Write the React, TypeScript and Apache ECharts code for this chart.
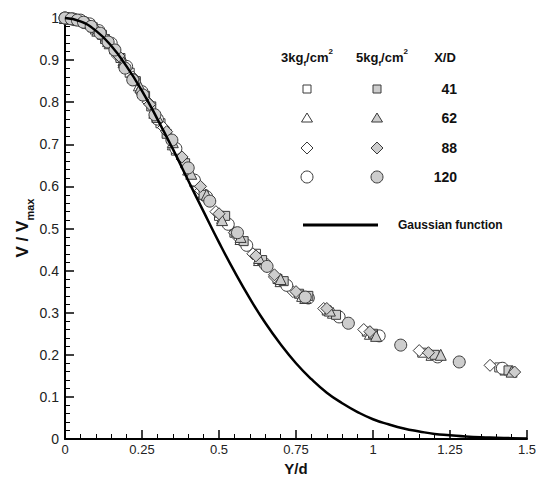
import React, { useEffect, useRef } from "react";
import * as echarts from "echarts";

const xTicks = [0, 0.25, 0.5, 0.75, 1, 1.25, 1.5];
const yTicks = [0, 0.1, 0.2, 0.3, 0.4, 0.5, 0.6, 0.7, 0.8, 0.9, 1];

// 3 kgf/cm2
const open41: number[][] = [[0,1],[0.01,1],[0.03,0.998],[0.05,0.994],[0.08,0.985],[0.12,0.96],[0.16,0.925],[0.21,0.87],[0.26,0.815],[0.31,0.75],[0.36,0.685],[0.42,0.61],[0.5,0.53],[0.55,0.49],[0.62,0.44],[0.69,0.38],[0.76,0.345],[0.85,0.305],[0.98,0.255],[1.16,0.205],[1.41,0.17]];
const open62: number[][] = [[0,1],[0.02,0.999],[0.04,0.996],[0.07,0.99],[0.1,0.975],[0.14,0.945],[0.19,0.9],[0.24,0.84],[0.29,0.775],[0.35,0.7],[0.4,0.64],[0.45,0.585],[0.51,0.525],[0.57,0.475],[0.63,0.425],[0.7,0.375],[0.77,0.34],[0.87,0.3],[0.99,0.25],[1.19,0.2],[1.43,0.165]];
const open88: number[][] = [[0,1],[0.015,0.999],[0.035,0.997],[0.06,0.992],[0.09,0.98],[0.13,0.95],[0.17,0.91],[0.22,0.86],[0.27,0.8],[0.32,0.74],[0.38,0.665],[0.44,0.59],[0.49,0.54],[0.56,0.48],[0.61,0.44],[0.68,0.385],[0.74,0.35],[0.84,0.31],[0.97,0.26],[1.15,0.21],[1.38,0.175]];
const open120: number[][] = [[0,1],[0.025,0.998],[0.05,0.995],[0.08,0.986],[0.11,0.97],[0.15,0.94],[0.2,0.885],[0.25,0.825],[0.3,0.76],[0.36,0.69],[0.42,0.615],[0.46,0.575],[0.53,0.51],[0.59,0.46],[0.65,0.415],[0.72,0.365],[0.79,0.335],[0.89,0.29],[1.02,0.245],[1.21,0.195],[1.42,0.168]];
// 5 kgf/cm2
const gray41: number[][] = [[0,1],[0.01,0.999],[0.03,0.997],[0.06,0.99],[0.09,0.978],[0.13,0.95],[0.18,0.905],[0.23,0.85],[0.28,0.79],[0.33,0.725],[0.39,0.655],[0.45,0.58],[0.52,0.53],[0.58,0.47],[0.64,0.425],[0.71,0.375],[0.79,0.34],[0.88,0.295],[1.0,0.25],[1.2,0.2],[1.44,0.163]];
const gray62: number[][] = [[0,1],[0.02,0.998],[0.045,0.995],[0.075,0.988],[0.105,0.97],[0.145,0.94],[0.19,0.895],[0.245,0.835],[0.3,0.765],[0.35,0.705],[0.41,0.63],[0.46,0.58],[0.51,0.52],[0.57,0.48],[0.63,0.43],[0.7,0.38],[0.78,0.335],[0.86,0.305],[1.01,0.245],[1.22,0.2],[1.45,0.16]];
const gray88: number[][] = [[0,1],[0.01,1],[0.035,0.996],[0.065,0.99],[0.095,0.976],[0.135,0.948],[0.175,0.91],[0.225,0.855],[0.275,0.795],[0.33,0.73],[0.38,0.67],[0.44,0.6],[0.5,0.535],[0.55,0.49],[0.62,0.435],[0.68,0.39],[0.75,0.35],[0.85,0.31],[0.99,0.255],[1.18,0.205],[1.46,0.159]];
const gray120: number[][] = [[0,1],[0.02,0.998],[0.04,0.995],[0.06,0.99],[0.085,0.98],[0.114,0.964],[0.14,0.943],[0.162,0.924],[0.195,0.881],[0.22,0.853],[0.253,0.817],[0.292,0.77],[0.347,0.71],[0.4,0.644],[0.47,0.565],[0.56,0.49],[0.656,0.41],[0.78,0.337],[0.92,0.275],[1.09,0.223],[1.28,0.183]];

const gaussX = [0,0.05,0.1,0.15,0.2,0.25,0.3,0.35,0.4,0.45,0.5,0.55,0.6,0.65,0.7,0.75,0.8,0.85,0.9,0.95,1.0,1.05,1.1,1.15,1.2,1.25,1.3,1.35,1.4,1.45,1.5];
const gaussY = [1,0.992,0.970,0.934,0.885,0.827,0.760,0.689,0.614,0.540,0.467,0.398,0.334,0.276,0.225,0.180,0.142,0.110,0.085,0.064,0.047,0.035,0.025,0.018,0.012,0.009,0.006,0.004,0.003,0.002,0.001];

const legendRows = ["41", "62", "88", "120"];
const FONT = "Liberation Sans, Arial, Helvetica, sans-serif";
const STROKE = "#3a3a3a";
const GRAY = "#cdcdcd";

export default function App() {
  const ref = useRef<HTMLDivElement>(null);
  useEffect(() => {
    const chart = echarts.init(ref.current!, null, { renderer: "svg" });
    const sets = [
      { d: open41, s: "rect", z: 9, f: "#fff" },
      { d: open62, s: "triangle", z: 11, f: "#fff" },
      { d: open88, s: "diamond", z: 12, f: "#fff" },
      { d: open120, s: "circle", z: 12, f: "#fff" },
      { d: gray41, s: "rect", z: 9, f: GRAY },
      { d: gray62, s: "triangle", z: 11, f: GRAY },
      { d: gray88, s: "diamond", z: 12, f: GRAY },
      { d: gray120, s: "circle", z: 12, f: GRAY },
    ];
    const scatter = sets.map((st) => ({
      type: "scatter",
      data: st.d,
      symbol: st.s,
      symbolSize: st.z,
      itemStyle: { color: st.f, borderColor: STROKE, borderWidth: 1, opacity: 1 },
      z: 3,
    }));
    const colX = [307, 377];
    const rowY = [89, 118, 148, 177];
    const legendGraphics: any[] = [];
    const headRich = {
      n: { fontSize: 13, fontWeight: "bold", fontFamily: FONT, lineHeight: 20, verticalAlign: "middle", fill: "#111" },
      sub: { fontSize: 8, fontWeight: "bold", fontFamily: FONT, lineHeight: 20, verticalAlign: "bottom", fill: "#111" },
      sup: { fontSize: 8, fontWeight: "bold", fontFamily: FONT, lineHeight: 20, verticalAlign: "top", fill: "#111" },
    };
    legendGraphics.push({ type: "text", x: 307, y: 57, style: { text: "{n|3kg}{sub|f}{n|/cm}{sup|2}", rich: headRich, align: "center", verticalAlign: "middle" } });
    legendGraphics.push({ type: "text", x: 382, y: 57, style: { text: "{n|5kg}{sub|f}{n|/cm}{sup|2}", rich: headRich, align: "center", verticalAlign: "middle" } });
    legendGraphics.push({ type: "text", x: 445, y: 57, style: { text: "X/D", font: `bold 13px ${FONT}`, fill: "#111", align: "center", verticalAlign: "middle" } });
    rowY.forEach((y, i) => {
      colX.forEach((x, j) => {
        const fill = j === 0 ? "#fff" : GRAY;
        const st = { fill, stroke: STROKE, lineWidth: 1 };
        if (i === 0) legendGraphics.push({ type: "rect", shape: { x: x - 4, y: y - 4, width: 8, height: 8 }, style: st });
        if (i === 1) legendGraphics.push({ type: "polygon", shape: { points: [[x, y - 5], [x + 5.5, y + 4], [x - 5.5, y + 4]] }, style: st });
        if (i === 2) legendGraphics.push({ type: "polygon", shape: { points: [[x, y - 6], [x + 6, y], [x, y + 6], [x - 6, y]] }, style: st });
        if (i === 3) legendGraphics.push({ type: "circle", shape: { cx: x, cy: y, r: 6 }, style: st });
      });
      legendGraphics.push({ type: "text", x: 457, y, style: { text: legendRows[i], font: `bold 14px ${FONT}`, fill: "#111", align: "right", verticalAlign: "middle" } });
    });
    legendGraphics.push({ type: "line", shape: { x1: 303, y1: 225, x2: 378, y2: 225 }, style: { stroke: "#000", lineWidth: 3 } });
    legendGraphics.push({ type: "text", x: 398, y: 225, style: { text: "Gaussian function", font: `bold 12px ${FONT}`, fill: "#111", align: "left", verticalAlign: "middle" } });
    // y axis title
    legendGraphics.push({
      type: "text", x: 22, y: 228, rotation: Math.PI / 2,
      style: {
        text: "{a|V / V}{b|max}", align: "center", verticalAlign: "middle",
        rich: {
          a: { fontSize: 17, fontWeight: "bold", fontFamily: FONT, lineHeight: 26, verticalAlign: "middle", fill: "#111" },
          b: { fontSize: 11, fontWeight: "bold", fontFamily: FONT, lineHeight: 26, verticalAlign: "bottom", fill: "#111" },
        },
      },
    });
    // x axis title
    legendGraphics.push({ type: "text", x: 296, y: 468, style: { text: "Y/d", font: `bold 15px ${FONT}`, fill: "#111", align: "center", verticalAlign: "middle" } });

    chart.setOption({
      animation: false,
      grid: { left: 65, right: 11, top: 18, bottom: 38, containLabel: false, outerBoundsMode: "none" },
      xAxis: {
        type: "value", min: xTicks[0], max: xTicks[xTicks.length - 1], interval: 0.25,
        axisLine: { show: true, onZero: false, lineStyle: { color: "#000", width: 2 } },
        axisTick: { show: true, inside: true, length: 9, lineStyle: { color: "#000", width: 1.5 } },
        minorTick: { show: true, splitNumber: 5, length: 5, lineStyle: { color: "#000", width: 1 } },
        axisLabel: { fontSize: 13, fontFamily: FONT, color: "#222", margin: 4 },
        splitLine: { show: false },
      },
      yAxis: {
        type: "value", min: yTicks[0], max: yTicks[yTicks.length - 1], interval: 0.1,
        axisLine: { show: true, onZero: false, lineStyle: { color: "#000", width: 2 } },
        axisTick: { show: true, inside: true, length: 9, lineStyle: { color: "#000", width: 1.5 } },
        minorTick: { show: true, splitNumber: 5, length: 5, lineStyle: { color: "#000", width: 1 } },
        axisLabel: { fontSize: 14, fontFamily: FONT, color: "#222", margin: 6 },
        splitLine: { show: false },
      },
      series: [
        {
          type: "line",
          data: gaussX.map((x, i) => [x, gaussY[i]]),
          smooth: true,
          symbol: "none",
          lineStyle: { color: "#000", width: 2.5 },
          z: 4,
        },
        ...scatter,
      ],
      graphic: legendGraphics,
    });
    return () => chart.dispose();
  }, []);
  return <div ref={ref} style={{ width: 538, height: 477, position: "absolute", left: 0, top: 0 }} />;
}
